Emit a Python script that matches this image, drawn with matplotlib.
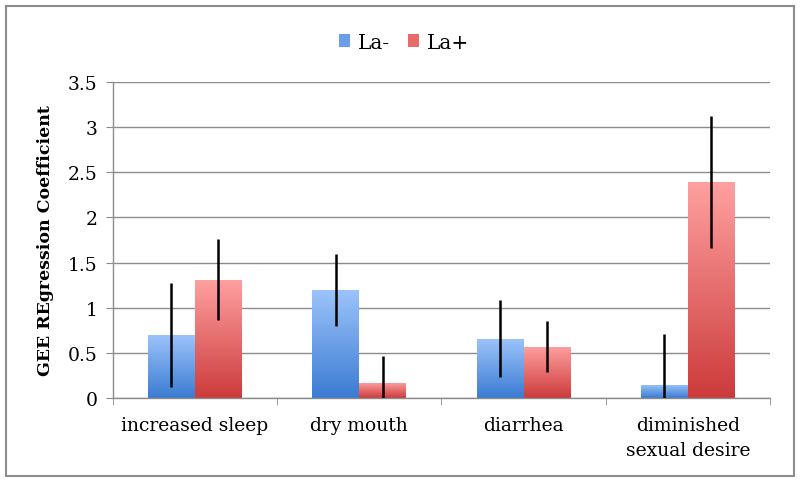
import matplotlib
matplotlib.use("Agg")
import matplotlib.pyplot as plt
import numpy as np
from matplotlib.colors import LinearSegmentedColormap
from matplotlib.patches import Patch, Rectangle

categories = ["increased sleep", "dry mouth", "diarrhea", "diminished\nsexual desire"]
la_minus = [0.70, 1.20, 0.66, 0.15]
la_minus_err = [0.58, 0.40, 0.43, 0.56]
la_plus = [1.31, 0.17, 0.57, 2.39]
la_plus_err = [0.45, 0.30, 0.28, 0.73]
series_labels = ["La-", "La+"]
yticks = [0, 0.5, 1, 1.5, 2, 2.5, 3, 3.5]
ytick_labels = ["0", "0.5", "1", "1.5", "2", "2.5", "3", "3.5"]

plt.rcParams["font.family"] = ["DejaVu Serif"]

BLUE = ("#9dc4fb", "#3b7bd2")
RED = ("#ffa0a0", "#cc3b3b")

fig = plt.figure(figsize=(8, 4.85), dpi=100)
fig.patches.append(Rectangle((0.008, 0.016), 0.984, 0.970, transform=fig.transFigure,
                             fill=False, edgecolor="#8c8c8c", lw=1.5))
ax = fig.add_axes([0.141, 0.177, 0.8215, 0.652])

x = np.arange(len(categories))
w = 1 / 3.5


def gradient_bars(xpos, vals, colors):
    bars = ax.bar(xpos, vals, w, color="none", edgecolor="none", zorder=2)
    cmap = LinearSegmentedColormap.from_list("g", [colors[1], colors[0]])
    grad = np.linspace(0, 1, 256).reshape(-1, 1)
    for b in bars:
        x0, y0 = b.get_x(), b.get_y()
        im = ax.imshow(grad, cmap=cmap, origin="lower", aspect="auto",
                       extent=(x0, x0 + b.get_width(), y0, y0 + b.get_height()),
                       zorder=2)
        im.set_clip_path(b)
    return bars


gradient_bars(x - w / 2, la_minus, BLUE)
gradient_bars(x + w / 2, la_plus, RED)
ax.errorbar(x - w / 2, la_minus, yerr=la_minus_err, fmt="none", ecolor="black",
            elinewidth=1.8, capsize=0, zorder=3)
ax.errorbar(x + w / 2, la_plus, yerr=la_plus_err, fmt="none", ecolor="black",
            elinewidth=1.8, capsize=0, zorder=3)

ax.set_xlim(-0.5, len(categories) - 0.5)
ax.set_ylim(0, 3.5)
ax.set_yticks(yticks)
ax.set_yticklabels(ytick_labels)
ax.set_xticks(x)
ax.set_xticklabels(categories, linespacing=1.45)
ax.set_xticks(np.arange(len(categories) + 1) - 0.5, minor=True)
ax.tick_params(axis="x", which="major", length=0, pad=13, labelsize=13.5)
ax.tick_params(axis="x", which="minor", length=5, color="#8c8c8c", direction="out")
ax.tick_params(axis="y", length=5, color="#8c8c8c", labelsize=13.5, pad=6)
ax.grid(axis="y", color="#8c8c8c", lw=1.0, zorder=0)
ax.set_axisbelow(True)
for s in ("top", "right"):
    ax.spines[s].set_visible(False)
for s in ("left", "bottom"):
    ax.spines[s].set_color("#8c8c8c")
    ax.spines[s].set_linewidth(1.0)

ax.set_ylabel("GEE REgression Coefficient", fontweight="bold", fontsize=12.5, labelpad=10)

handles = [Patch(facecolor="#6a9fe8", label=series_labels[0]),
           Patch(facecolor="#e86b6b", label=series_labels[1])]
fig.legend(handles=handles, loc="center", bbox_to_anchor=(0.505, 0.911), ncol=2,
           frameon=False, fontsize=14.5, handlelength=0.55, handleheight=0.55,
           handletextpad=0.4, columnspacing=0.9)

fig.savefig("out.png", dpi=100)
